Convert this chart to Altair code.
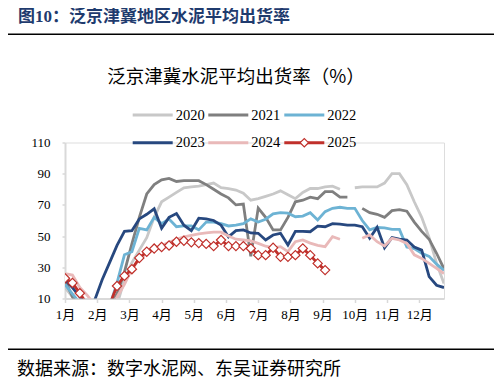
import altair as alt
import pandas as pd

YEARS = ["2020", "2021", "2022", "2023", "2024", "2025"]
COLORS = ["#C8C8C8", "#7F7F7F", "#6DB3D4", "#27487F", "#E9B9B9", "#C0302B"]
MONTHS = ["1月", "2月", "3月", "4月", "5月", "6月", "7月", "8月", "9月", "10月", "11月", "12月"]
Y_TICKS = [10, 30, 50, 70, 90, 110]
WEEKS = list(range(52))

S2020 = [17, 11, 4, 3, 3, 3, 3, 6, 22, 33, 41, 49, 62, 72, 75, 78, 81, 81.5, 82, 83,
         84, 81, 80.5, 79.5, 77.5, 73, 74, 75.5, 77, 79, 76.5, 74, 78, 80.5, 80.5, 81.5,
         82, 80, None, 81, 81.5, 81.5, 81.5, 84, 90, 90, 83, 72, 62, 49, 32.5, 19.6]
S2021 = [22, 11, 4, 3, 3, 3, 5, 13, 27, 45, 62, 77, 83, 86, 87, 85, 85.5, 85.5, 85.5, 83,
         80, 77, 74.5, 70, 70.5, 37, 68, 62, 54, 54, 62, 72, 73, 75, 74, 78.5,
         78.5, 75, 75, None, 67.8, 65, 64, 62, 66.3, 67, 66, 59, 53, 48, 39, 29]
S2022 = [19, 13, 7, 4, 3, 3, 5, 20, 38, 40, 55, 54, 62, 58, 61, 56, 56.5, 56.5, 54, 59,
         59, 58, 56.5, 57, 58, 61, 59, 60.8, 64.2, 65, 64.7, 62.4, 62.8, 65, 60.3, 65.7,
         67.8, 68.5, 67.8, 67.8, 60, 54, 55.5, 55.3, 54.3, 54.3, 43, 42, 39, 37, 32, 28]
S2023 = [22, 17, 11, 5, 9, 22, 33, 44, 53, 53.5, 61, 64, 67.5, 55, 62, 64.5, 57, 53.5, 61.5, 61,
         60, 57, 49.5, 53.5, 54, 52, 51.8, 47.5, 50.7, 51.8, 44.3, 53, 53, 52.8, 56.4, 56,
         58, 57.7, 57, 57, 56, 48.6, 55.6, 42.5, 49, 48, 47.5, 43, 41, 24, 18.5, 17]
S2024 = [26, 25, 17, 12, 6, 3, 4, 11, 19, 29, 35, 39, 42, 44, 46, 48, 49.5, 50.5, 51.5, 52,
         52.5, 52.5, 50, 48, 47.5, 47, 45.3, 43.5, 42.5, 43.2, 40, 46.4, 47.5, 45.5, 44, 43.2,
         49.6, 48, None, None, 48.6, 50.7, 46.4, 43.6, 48.6, 47.5, 45.3, 38, 35.7, 32.5, 29.3, 26]
S2025 = [23, 20, 13.4, 6, 3, 3, 6, 18, 24.5, 28.8, 36, 40, 42, 43, 44, 46.4, 47, 46, 45.5, 45,
         43.6, 47.5, 43.6, 43.6, 43.6, 42.1, 37.8, 37.8, 42.5, 36.7, 36.7, 37.8, 42.1, 37.8, 32.5, 28.2,
         None, None, None, None, None, None, None, None, None, None, None, None, None, None, None, None]
SERIES = [S2020, S2021, S2022, S2023, S2024, S2025]

rows = []
for yr, series in zip(YEARS, SERIES):
    seg = 0
    for w, v in zip(WEEKS, series):
        if v is None:
            seg += 1
            continue
        rows.append({"year": yr, "seg": f"{yr}-{seg:02d}", "week": w, "value": v})
df = pd.DataFrame(rows)
one = pd.DataFrame({"k": [0]})

SERIF = "Liberation Serif, Noto Sans CJK SC"
CJK = "Noto Sans CJK SC"
RED = COLORS[-1]

month_expr = "[" + ",".join(f"'{m}'" for m in MONTHS) + "][round(datum.value*12/52)]"

x_enc = alt.X("week:Q", scale=alt.Scale(domain=[0, 51], nice=False, zero=False),
              axis=alt.Axis(values=[k * 52 / 12 for k in range(12)], labelExpr=month_expr,
                            title=None, grid=False, domainColor="#D9D9D9", domainWidth=2,
                            tickColor="#D9D9D9", tickSize=4, tickWidth=1.5,
                            labelFont=SERIF, labelFontSize=13, labelColor="#000",
                            labelPadding=6, labelOverlap=False, labelFlush=False))
y_enc = alt.Y("value:Q", scale=alt.Scale(domain=[10, 110], nice=False, zero=False),
              axis=alt.Axis(values=Y_TICKS, title=None, grid=False, domainColor="#D9D9D9",
                            domainWidth=2, tickColor="#D9D9D9", tickSize=3, tickWidth=1.5,
                            labelFont=SERIF, labelFontSize=13, labelColor="#000",
                            labelPadding=12, labelOverlap=False, labelFlush=False))

base = alt.Chart(df)
lines = base.mark_line(strokeWidth=2.8, clip=True).encode(
    x=x_enc, y=y_enc,
    color=alt.Color("year:N", scale=alt.Scale(domain=YEARS, range=COLORS), legend=None),
    detail="seg:N",
)
pts = base.transform_filter(alt.datum.year == "2025").mark_point(
    shape="diamond", filled=True, fill="white", stroke=RED, strokeWidth=1.2,
    size=85, opacity=1, clip=True
).encode(x=x_enc, y=y_enc)

layers = [lines, pts]

# header / title / source
layers.append(alt.Chart(one).mark_text(text="图10：泛京津冀地区水泥平均出货率", font=SERIF, fontSize=17,
                                       fontWeight="bold", color="#1F3B6E", align="left",
                                       baseline="middle").encode(x=alt.value(-47), y=alt.value(-125.3)))
layers.append(alt.Chart(one).mark_rule(color="#000", strokeWidth=1.5).encode(
    x=alt.value(-60), x2=alt.value(432), y=alt.value(-108.3)))
layers.append(alt.Chart(one).mark_text(text="泛京津冀水泥平均出货率（%）", font=CJK, fontSize=18.5,
                                       color="#000", align="center", baseline="middle").encode(
    x=alt.value(171), y=alt.value(-66)))
layers.append(alt.Chart(one).mark_rule(color="#000", strokeWidth=1.5).encode(
    x=alt.value(-60), x2=alt.value(432), y=alt.value(206.8)))
layers.append(alt.Chart(one).mark_text(text="数据来源：数字水泥网、东吴证券研究所", font=CJK, fontSize=18,
                                       color="#000", align="left", baseline="middle").encode(
    x=alt.value(-48), y=alt.value(227)))

# legend
LEG_X = [67.7, 143.3, 219.3]
LEG_Y = [-27.5, 0.2]
for k, (yr, col) in enumerate(zip(YEARS, COLORS)):
    lx = LEG_X[k % 3]
    ly = LEG_Y[k // 3]
    layers.append(alt.Chart(one).mark_rule(color=col, strokeWidth=3).encode(
        x=alt.value(lx), x2=alt.value(lx + 40), y=alt.value(ly)))
    layers.append(alt.Chart(one).mark_text(text=yr, font=SERIF, fontSize=14.5, color="#000",
                                           align="left", baseline="middle").encode(
        x=alt.value(lx + 43), y=alt.value(ly + 0.5)))
layers.append(alt.Chart(one).mark_point(shape="diamond", filled=True, fill="white", stroke=RED,
                                        strokeWidth=1.2, size=70, opacity=1).encode(
    x=alt.value(LEG_X[2] + 20), y=alt.value(LEG_Y[1])))

chart = alt.layer(*layers).properties(
    width=379, height=156,
    autosize=alt.AutoSizeParams(type="none"),
    padding={"left": 57, "top": 134.5, "right": 50, "bottom": 80.5},
).configure_view(stroke=None).configure_axis(labelOverlap=False).configure(background="white")

chart.save("out.html", embed_options={"renderer": "svg", "actions": False})
